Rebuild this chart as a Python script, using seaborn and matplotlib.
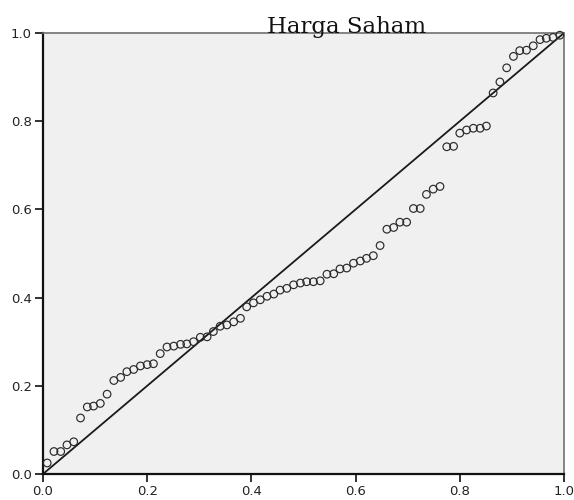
import matplotlib
matplotlib.use("Agg")
import matplotlib.pyplot as plt
import seaborn as sns
import pandas as pd

title = "Harga Saham"

observed_cum_prob = [
    0.008, 0.021, 0.034, 0.046, 0.059, 0.072, 0.085, 0.097, 0.110, 0.123,
    0.136, 0.149, 0.161, 0.174, 0.187, 0.200, 0.212, 0.225, 0.238, 0.251,
    0.264, 0.276, 0.289, 0.302, 0.315, 0.327, 0.340, 0.353, 0.366, 0.379,
    0.391, 0.404, 0.417, 0.430, 0.443, 0.455, 0.468, 0.481, 0.494, 0.506,
    0.519, 0.532, 0.545, 0.558, 0.570, 0.583, 0.596, 0.609, 0.621, 0.634,
    0.647, 0.660, 0.673, 0.685, 0.698, 0.711, 0.724, 0.736, 0.749, 0.762,
    0.775, 0.788, 0.800, 0.813, 0.826, 0.839, 0.851, 0.864, 0.877, 0.890,
    0.903, 0.915, 0.928, 0.941, 0.954, 0.966, 0.979, 0.992,
]

expected_cum_prob = [
    0.025, 0.051, 0.051, 0.066, 0.073, 0.127, 0.152, 0.154, 0.160, 0.181,
    0.212, 0.219, 0.232, 0.237, 0.245, 0.248, 0.250, 0.273, 0.288, 0.290,
    0.294, 0.295, 0.300, 0.310, 0.311, 0.323, 0.335, 0.338, 0.345, 0.353,
    0.379, 0.388, 0.395, 0.403, 0.408, 0.417, 0.421, 0.429, 0.433, 0.436,
    0.436, 0.438, 0.453, 0.454, 0.465, 0.467, 0.478, 0.483, 0.489, 0.495,
    0.518, 0.555, 0.559, 0.571, 0.571, 0.602, 0.602, 0.634, 0.646, 0.652,
    0.742, 0.743, 0.773, 0.780, 0.784, 0.784, 0.789, 0.864, 0.889, 0.921,
    0.947, 0.960, 0.961, 0.971, 0.985, 0.988, 0.990, 0.995,
]

ref_line = [0.0, 1.0]
tick_values = [0.0, 0.2, 0.4, 0.6, 0.8, 1.0]
tick_labels = ["0.0", "0.2", "0.4", "0.6", "0.8", "1.0"]

df = pd.DataFrame({"obs": observed_cum_prob, "exp": expected_cum_prob})
ref = pd.DataFrame({"x": ref_line, "y": ref_line})

sns.set_style("white")
plt.rcParams["font.family"] = ["DejaVu Sans"]

fig = plt.figure(figsize=(5.74, 5.0), dpi=100)
fig.patch.set_facecolor("white")
ax = fig.add_axes([43 / 574, 26 / 500, 521 / 574, 441 / 500])
ax.set_facecolor("#f0f0f0")

sns.lineplot(data=ref, x="x", y="y", ax=ax, color="#1a1a1a", linewidth=1.3,
             zorder=2)
sns.scatterplot(data=df, x="obs", y="exp", ax=ax, marker="o", s=30,
                facecolor="none", edgecolor="#2a2a2a", linewidth=0.85,
                zorder=3, clip_on=False)

ax.set_xlim(0, 1)
ax.set_ylim(0, 1)
ax.set_xticks(tick_values)
ax.set_xticklabels(tick_labels)
ax.set_yticks(tick_values)
ax.set_yticklabels(tick_labels)
ax.set_xlabel("")
ax.set_ylabel("")
ax.tick_params(axis="both", direction="out", length=6, width=1.3,
               color="#222222", labelsize=9.5, labelcolor="#222222", pad=2,
               left=True, bottom=True)

for side in ["left", "bottom"]:
    ax.spines[side].set_color("#111111")
    ax.spines[side].set_linewidth(1.6)
for side in ["top", "right"]:
    ax.spines[side].set_visible(True)
    ax.spines[side].set_color("#707070")
    ax.spines[side].set_linewidth(1.2)

fig.text(347 / 574, 467 / 500, title, ha="center", va="baseline",
         fontsize=16.5, family=["DejaVu Serif"], color="#111111")

fig.savefig("out.png", dpi=100)
